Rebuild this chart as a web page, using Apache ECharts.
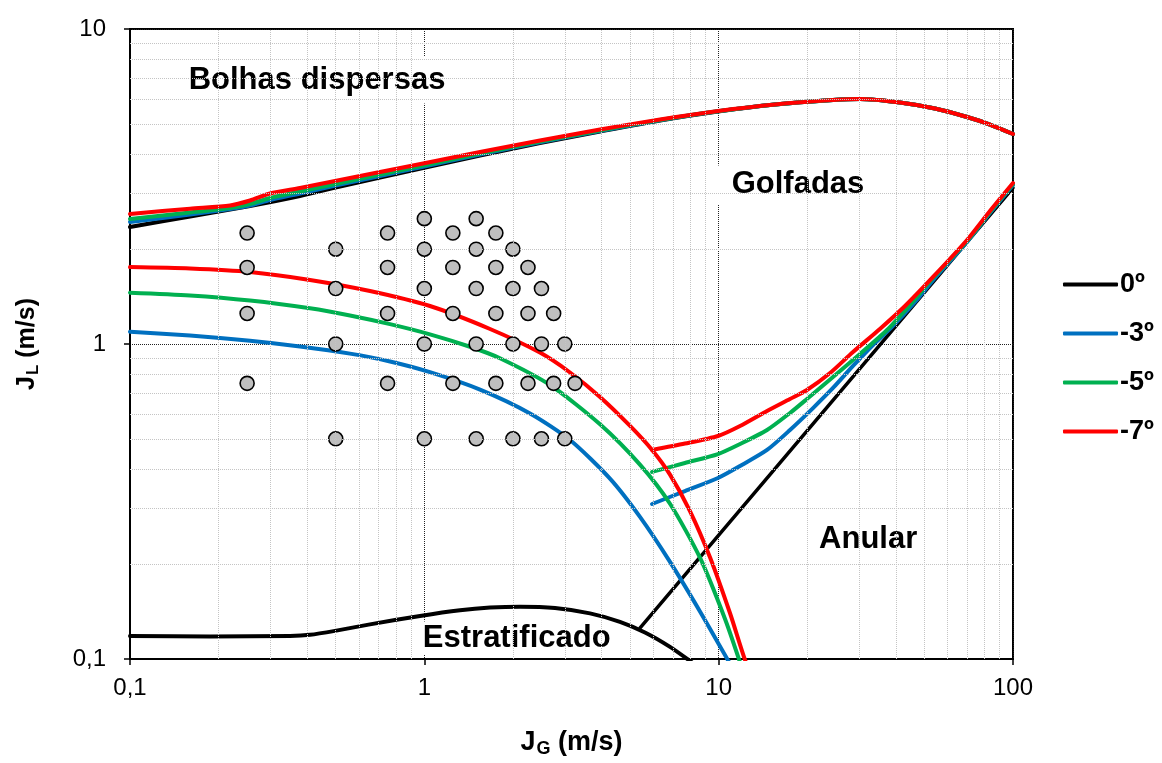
<!DOCTYPE html>
<html>
<head>
<meta charset="utf-8">
<script src="https://cdn.jsdelivr.net/npm/echarts@6/dist/echarts.min.js"></script>
<style>
  html, body { margin: 0; padding: 0; background: #ffffff; }
  #chart { width: 1162px; height: 763px; }
</style>
</head>
<body>
<div id="chart"></div>
<script>
// Flow-pattern map: superficial gas velocity J_G vs superficial liquid velocity J_L (m/s)
const FONT = "'Liberation Sans', Arial, Helvetica, sans-serif";

const angleNames  = ['0º', '-3º', '-5º', '-7º'];
const angleColors = ['#000000', '#0070C0', '#00B050', '#FF0000'];

// Shared right-hand part of the dispersed-bubble boundary
const upperTail = [[15.54,5.759],[24.46,5.95],[30.2,5.995],[41.3,5.844],[54.3,5.592],[69.8,5.255],[83.5,4.975],[100,4.642]];

// Dispersed-bubble boundary (upper curve), one per inclination
const upperBoundary0 = [[0.1,2.351],[0.16,2.54],[0.2557,2.743],[0.378,2.95],[0.517,3.162],[0.7072,3.378],[0.99,3.62],[1.546,3.966],[2.47,4.346],[3.953,4.727],[6.32,5.123],[9.95,5.471]].concat(upperTail);
const upperBoundary3 = [[0.1,2.439],[0.16,2.577],[0.2187,2.683],[0.2557,2.753],[0.299,2.865],[0.378,3.004],[0.517,3.209],[0.7072,3.415],[0.99,3.652],[1.546,3.996],[2.47,4.368],[3.953,4.745],[6.32,5.134],[9.95,5.48]].concat(upperTail);
const upperBoundary5 = [[0.1,2.494],[0.16,2.615],[0.2187,2.702],[0.2557,2.782],[0.299,2.908],[0.378,3.049],[0.517,3.244],[0.7072,3.452],[0.99,3.687],[1.546,4.025],[2.47,4.394],[3.953,4.763],[6.32,5.142],[9.95,5.48]].concat(upperTail);
const upperBoundary7 = [[0.1,2.586],[0.16,2.689],[0.2187,2.753],[0.2557,2.855],[0.299,3.004],[0.378,3.128],[0.517,3.316],[0.7072,3.516],[0.99,3.741],[1.546,4.07],[2.47,4.426],[3.953,4.797],[6.32,5.161],[9.95,5.491]].concat(upperTail);

// Bubble / slug transition (descending curves) for inclined pipes
const bubbleSlug3 = [[0.1,1.094],[0.16,1.064],[0.2557,1.024],[0.378,0.982],[0.559,0.932],[0.7646,0.88],[1.045,0.814],[1.546,0.7165],[2.286,0.602],[3.126,0.4956],[4.273,0.3738],[5.403,0.2826],[6.834,0.2034],[8.64,0.1416],[10.93,0.0965]];
const bubbleSlug5 = [[0.1,1.455],[0.16,1.426],[0.2557,1.374],[0.4089,1.298],[0.559,1.232],[0.7646,1.156],[1.045,1.073],[1.429,0.98],[1.807,0.901],[2.673,0.741],[3.953,0.556],[5.403,0.414],[6.834,0.311],[8.64,0.2097],[10.51,0.134],[11.82,0.0975]];
const bubbleSlug7 = [[0.1,1.755],[0.16,1.737],[0.2557,1.693],[0.4089,1.597],[0.6536,1.473],[1.045,1.32],[1.672,1.116],[2.47,0.939],[3.126,0.812],[3.953,0.679],[5.0,0.5495],[5.94,0.461],[6.834,0.385],[7.99,0.295],[9.35,0.21],[10.93,0.1397],[12.29,0.0993],[12.98,0.0883]];

// Slug / annular transition (rising curves)
const slugAnnular3 = [[5.94,0.3105],[7.68,0.3414],[9.95,0.3756],[11.82,0.41],[14.6,0.461],[17.47,0.5333],[20.92,0.626],[24.46,0.725],[28.6,0.8516],[33.45,0.9927],[39.1,1.141],[46.47,1.359],[54.3,1.62],[69.8,2.108],[83.5,2.605],[100,3.197]];
const slugAnnular5 = [[5.94,0.3925],[7.68,0.419],[9.95,0.4474],[11.82,0.4814],[14.6,0.5333],[17.47,0.604],[19.95,0.669],[24.46,0.7856],[30.2,0.9296],[37.32,1.108],[44.67,1.33],[53.5,1.62],[69.8,2.123],[83.5,2.624],[100,3.22]];
const slugAnnular7 = [[5.94,0.461],[7.68,0.483],[9.95,0.5105],[11.82,0.549],[14.6,0.613],[17.47,0.669],[19.95,0.7145],[23.9,0.809],[28.6,0.943],[35.3,1.116],[42.97,1.32],[53.5,1.632],[69.8,2.139],[83.5,2.644],[100,3.244]];
const annular0     = [[5.4,0.1254],[100,3.13]];

// Stratified region boundary, horizontal pipe
const stratified0 = [[0.1,0.1183],[0.187,0.1179],[0.3497,0.1183],[0.4089,0.1193],[0.497,0.1228],[0.6536,0.1288],[0.9667,0.137],[1.322,0.1428],[1.672,0.1456],[2.114,0.1466],[2.78,0.1452],[3.655,0.1396],[4.62,0.1312],[5.618,0.1214],[6.834,0.1093],[7.99,0.0986],[8.64,0.0932]];

// Experimental test points (J_G, J_L)
const testPoints = [
  [1,2.5],[1.5,2.5],
  [0.25,2.25],[0.75,2.25],[1.25,2.25],[1.75,2.25],
  [0.5,2],[1,2],[1.5,2],[2,2],
  [0.25,1.75],[0.75,1.75],[1.25,1.75],[1.75,1.75],[2.25,1.75],
  [0.5,1.5],[1,1.5],[1.5,1.5],[2,1.5],[2.5,1.5],
  [0.25,1.25],[0.75,1.25],[1.25,1.25],[1.75,1.25],[2.25,1.25],[2.75,1.25],
  [0.5,1],[1,1],[1.5,1],[2,1],[2.5,1],[3,1],
  [0.25,0.75],[0.75,0.75],[1.25,0.75],[1.75,0.75],[2.25,0.75],[2.75,0.75],[3.25,0.75],
  [0.5,0.5],[1,0.5],[1.5,0.5],[2,0.5],[2.5,0.5],[3,0.5]
];

// Flow-regime names and where they sit on the map
const regionNames  = ['Bolhas dispersas', 'Golfadas', 'Anular', 'Estratificado'];
const regionPlaces = [[0.432,6.89], [18.6,3.2], [32.2,0.24], [2.06,0.1166]];
const regionPads   = [[8,28], [4,21], [4,12], [1,6]];

// Axis decades
const xDecades = [0.1, 1, 10, 100];
const yDecades = [0.1, 1, 10];

// Minor grid positions 2..9 in every decade
const minorX = [], minorY = [];
xDecades.slice(0, -1).forEach(d => { for (let k = 2; k <= 9; k++) minorX.push(+(k * d).toPrecision(3)); });
yDecades.slice(0, -1).forEach(d => { for (let k = 2; k <= 9; k++) minorY.push(+(k * d).toPrecision(3)); });

const commaNum = v => String(+(+v).toPrecision(6)).replace('.', ',');

function curve(name, idx, data, width) {
  return {
    name: name,
    type: 'line',
    data: data,
    smooth: 0.25,
    showSymbol: false,
    symbol: 'none',
    clip: true,
    z: 3,
    silent: true,
    lineStyle: { color: angleColors[idx], width: width || 4, cap: 'round', join: 'round' },
    itemStyle: { color: angleColors[idx] }
  };
}

const series = [
  // minor grid lines
  {
    type: 'line',
    data: [],
    z: 1,
    silent: true,
    markLine: {
      silent: true,
      symbol: ['none', 'none'],
      label: { show: false },
      lineStyle: { color: '#c4c4c4', type: 'dotted', width: 1 },
      data: minorX.map(v => ({ xAxis: v })).concat(minorY.map(v => ({ yAxis: v })))
    }
  },
  curve(angleNames[0], 0, upperBoundary0, 4),
  curve(angleNames[0], 0, stratified0, 4),
  curve(angleNames[0], 0, annular0, 3.5),
  curve(angleNames[1], 1, upperBoundary3),
  curve(angleNames[1], 1, bubbleSlug3),
  curve(angleNames[1], 1, slugAnnular3),
  curve(angleNames[2], 2, upperBoundary5),
  curve(angleNames[2], 2, bubbleSlug5),
  curve(angleNames[2], 2, slugAnnular5),
  curve(angleNames[3], 3, upperBoundary7),
  curve(angleNames[3], 3, bubbleSlug7),
  curve(angleNames[3], 3, slugAnnular7),
  // test points
  {
    type: 'scatter',
    z: 4,
    silent: true,
    symbol: 'circle',
    symbolSize: 14,
    data: testPoints,
    itemStyle: { color: '#BFBFBF', borderColor: '#000', borderWidth: 1.6, opacity: 1 }
  }
];

const chart = echarts.init(document.getElementById('chart'), null, { renderer: 'canvas' });
chart.setOption({
  animation: false,
  backgroundColor: '#ffffff',
  grid: { left: 130, right: 149, top: 29, bottom: 104, show: true, borderColor: '#000', borderWidth: 2, backgroundColor: 'transparent' },
  legend: {
    data: angleNames,
    orient: 'vertical',
    left: 1058,
    top: 266,
    itemWidth: 55,
    itemHeight: 4,
    itemGap: 22,
    icon: 'roundRect',
    selectedMode: false,
    textStyle: { fontFamily: FONT, fontSize: 27, fontWeight: 'bold', color: '#000', padding: [0, 0, 0, -3] }
  },
  xAxis: {
    type: 'log',
    logBase: 10,
    min: 0.1,
    max: 100,
    name: '{j|J}{sub|G}{j| (m/s)}',
    nameLocation: 'middle',
    nameGap: 69,
    nameTextStyle: {
      rich: {
        j:   { fontFamily: FONT, fontSize: 27, fontWeight: 'bold', color: '#000' },
        sub: { fontFamily: FONT, fontSize: 18, fontWeight: 'bold', color: '#000', verticalAlign: 'bottom', padding: [12, 0, 0, 1] }
      }
    },
    axisLine: { show: true, lineStyle: { color: '#000', width: 2 } },
    axisTick: { show: true, length: 6, lineStyle: { color: '#000', width: 1.5 } },
    minorTick: { show: false },
    axisLabel: { fontFamily: FONT, fontSize: 24, color: '#000', margin: 17, formatter: commaNum },
    splitLine: { show: true, lineStyle: { color: '#222', type: 'dotted', width: 1 } }
  },
  yAxis: {
    type: 'log',
    logBase: 10,
    min: 0.1,
    max: 10,
    name: '{j|J}{sub|L}{j| (m/s)}',
    nameLocation: 'middle',
    nameGap: 88,
    nameRotate: 90,
    nameTextStyle: {
      rich: {
        j:   { fontFamily: FONT, fontSize: 25, fontWeight: 'bold', color: '#000' },
        sub: { fontFamily: FONT, fontSize: 17, fontWeight: 'bold', color: '#000', verticalAlign: 'bottom', padding: [12, 0, 0, 1] }
      }
    },
    axisLine: { show: true, lineStyle: { color: '#000', width: 2 } },
    axisTick: { show: true, length: 6, lineStyle: { color: '#000', width: 1.5 } },
    minorTick: { show: false },
    axisLabel: { fontFamily: FONT, fontSize: 24, color: '#000', margin: 24, formatter: commaNum },
    splitLine: { show: true, lineStyle: { color: '#222', type: 'dotted', width: 1 } }
  },
  series: series
});

// Regime names on white boxes, placed through the axis scales
chart.setOption({
  graphic: regionNames.map((n, i) => {
    const p = chart.convertToPixel({ xAxisIndex: 0, yAxisIndex: 0 }, regionPlaces[i]);
    return {
      type: 'text',
      x: p[0],
      y: p[1],
      z: 2,
      silent: true,
      style: {
        text: n,
        fontFamily: FONT,
        fontSize: 31,
        fontWeight: 'bold',
        fill: '#000000',
        align: 'center',
        verticalAlign: 'middle',
        backgroundColor: '#ffffff',
        padding: regionPads[i]
      }
    };
  })
});
</script>
</body>
</html>
